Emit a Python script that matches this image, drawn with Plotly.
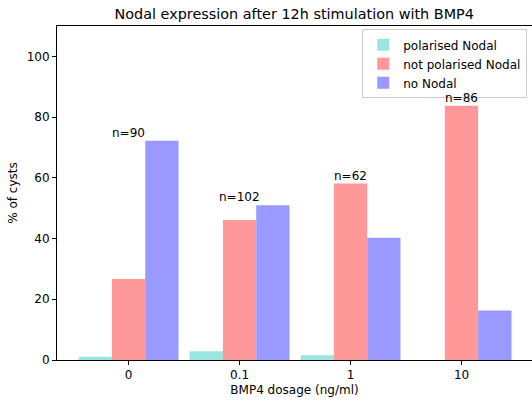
import plotly.graph_objects as go

categories = ["0", "0.1", "1", "10"]
polarised = [1.1, 2.9, 1.6, 0.0]
not_polarised = [26.7, 46.1, 58.1, 83.7]
no_nodal = [72.2, 51.0, 40.3, 16.3]
n_counts = [90, 102, 62, 86]
y_ticks = [0, 20, 40, 60, 80, 100]

series = [
    ("polarised Nodal", polarised, "#99E5E0"),
    ("not polarised Nodal", not_polarised, "#FF9999"),
    ("no Nodal", no_nodal, "#9999FF"),
]

x_idx = list(range(len(categories)))

fig = go.Figure()
for name, vals, col in series:
    fig.add_trace(go.Bar(
        x=x_idx, y=vals, name=name,
        marker=dict(color=col, line=dict(width=0)),
    ))

font = "DejaVu Sans, sans-serif"
annotations = []
for i, n in enumerate(n_counts):
    top = max(polarised[i], not_polarised[i], no_nodal[i])
    annotations.append(dict(
        x=i, y=top, xref="x", yref="y", text=f"n={n}",
        showarrow=False, yanchor="bottom", yshift=-1,
        font=dict(family=font, size=12, color="black"),
    ))

fig.update_layout(
    width=532, height=406,
    margin=dict(l=57, r=0, t=26, b=46, autoexpand=False),
    paper_bgcolor="white", plot_bgcolor="white",
    barmode="group", bargap=0.1, bargroupgap=0,
    font=dict(family=font, size=12, color="black"),
    title=dict(text="Nodal expression after 12h stimulation with BMP4",
               x=0.553, xanchor="center", y=0.965, yanchor="middle",
               font=dict(family=font, size=14.4, color="black")),
    xaxis=dict(
        tickmode="array", tickvals=x_idx, ticktext=categories,
        range=[-0.645, 3.635], automargin=False,
        showline=True, linecolor="black", linewidth=1, mirror=True,
        ticks="outside", ticklen=4, tickcolor="black", showgrid=False, zeroline=False,
        title=dict(text="BMP4 dosage (ng/ml)", standoff=4, font=dict(size=12)),
        tickfont=dict(size=12),
    ),
    yaxis=dict(
        range=[0, 110], tickvals=y_ticks, automargin=False,
        showline=True, linecolor="black", linewidth=1,
        ticks="outside", ticklen=4, tickcolor="black", showgrid=False, zeroline=False,
        title=dict(text="% of cysts", standoff=6, font=dict(size=12)),
        tickfont=dict(size=12),
    ),
    legend=dict(
        x=0.99, xanchor="right", y=0.99, yanchor="top",
        bgcolor="rgba(255,255,255,0.8)", bordercolor="#cccccc", borderwidth=1,
        font=dict(family=font, size=12, color="black"),
        itemwidth=30, tracegroupgap=0,
    ),
    annotations=annotations,
)

fig.write_html(
    "out.html",
    config={"displayModeBar": False},
    post_script="document.body.style.margin='0';document.body.style.overflow='hidden';",
)
